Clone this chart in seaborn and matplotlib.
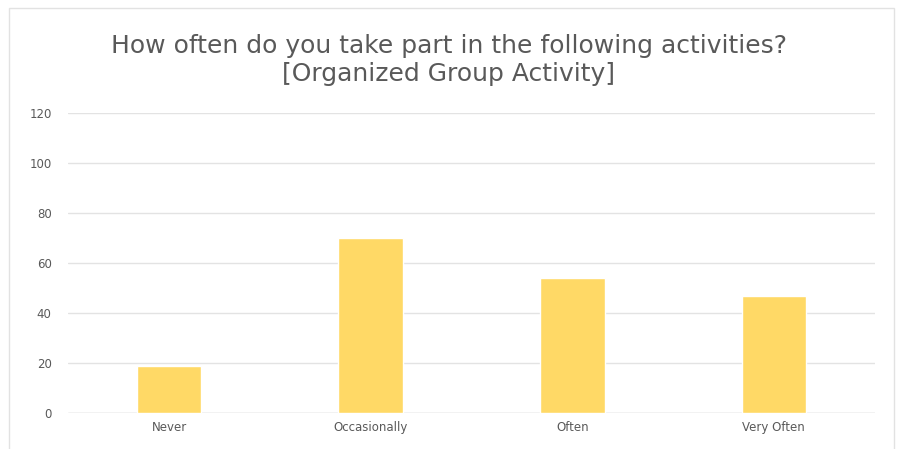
import matplotlib
matplotlib.use("Agg")
import matplotlib.pyplot as plt
import seaborn as sns
import pandas as pd

# survey answers
categories = ["Never", "Occasionally", "Often", "Very Often"]
counts = [19, 70, 54, 47]
y_ticks = [0, 20, 40, 60, 80, 100, 120]

df = pd.DataFrame({"answer": categories, "count": counts})

sns.set_theme(style="white")
plt.rcParams["font.family"] = ["DejaVu Sans"]

text_grey = "#595959"

fig = plt.figure(figsize=(8.98, 4.49), dpi=100)
fig.patch.set_facecolor("white")
ax = fig.add_axes([0.076, 0.080, 0.898, 0.668])

sns.barplot(data=df, x="answer", y="count", color="#FFD966", saturation=1,
            width=0.32, ax=ax, zorder=3)

ax.set_ylim(0, 120)
ax.set_yticks(y_ticks)
ax.yaxis.grid(True, color="#E3E3E3", linewidth=1, zorder=0)
ax.set_xlim(-0.5, 3.5)
for s in ax.spines.values():
    s.set_visible(False)
ax.axhline(0, color="#D9D9D9", linewidth=1, zorder=2)
ax.set_xlabel("")
ax.set_ylabel("")
ax.tick_params(axis="both", length=0, labelsize=8.5, colors=text_grey, pad=12)
ax.tick_params(axis="x", pad=6)

fig.text(0.5, 0.866, "How often do you take part in the following activities?\n[Organized Group Activity]",
         ha="center", va="center", fontsize=18, color=text_grey, linespacing=1.2)

# light chart-area border (cut off at the bottom in the original)
fig.add_artist(plt.Rectangle((0.010, -0.05), 0.985, 1.032, transform=fig.transFigure,
                             fill=False, edgecolor="#E2E2E2", linewidth=1))

fig.savefig("out.png", dpi=100)
